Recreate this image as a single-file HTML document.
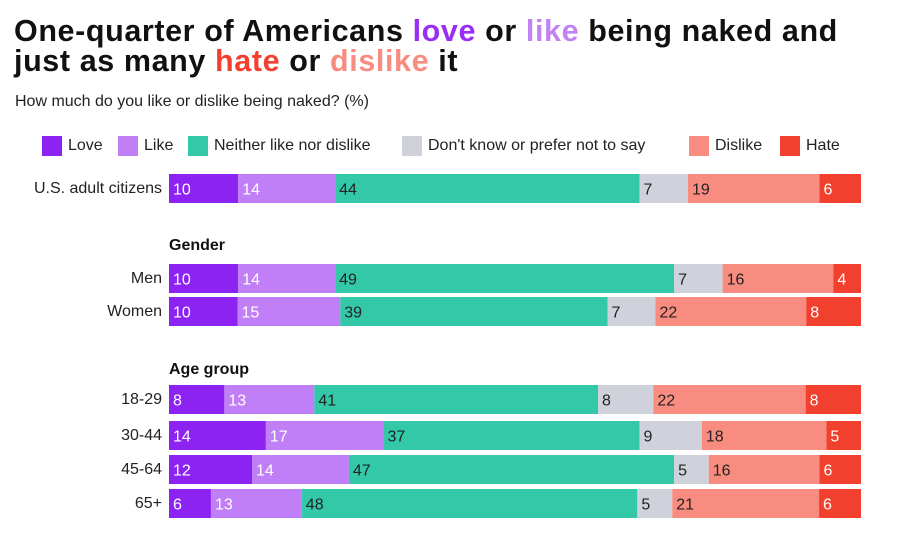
<!DOCTYPE html>
<html><head><meta charset="utf-8"><style>
body{margin:0;background:#fff;font-family:"Liberation Sans",sans-serif;}
#wrap{position:relative;width:900px;height:535px;overflow:hidden;}
h1{position:absolute;left:14px;top:16px;margin:0;font-size:30.5px;line-height:30px;font-weight:bold;letter-spacing:0.6px;color:#111;white-space:nowrap;}
.sub{position:absolute;left:15px;top:93px;font-size:16px;color:#222;}
.leg{position:absolute;top:136px;font-size:16px;color:#222;display:flex;align-items:center;white-space:nowrap;}
.leg i{display:inline-block;width:20px;height:20px;margin-right:6px;}
.lab{position:absolute;font-size:16px;color:#222;text-align:right;width:160px;left:2px;}
.grp{position:absolute;left:169px;font-size:16px;font-weight:bold;color:#111;}
</style></head><body><div id="wrap">
<h1>One-quarter of Americans <span style="color:#9a2ef5">love</span> or <span style="color:#c083f5">like</span> being naked and<br>just as many <span style="color:#f2402e">hate</span> or <span style="color:#f98c80">dislike</span> it</h1>
<div class="sub">How much do you like or dislike being naked? (%)</div>
<div id="legend"></div>
<div class="grp" style="top:237px">Gender</div>
<div class="grp" style="top:361px">Age group</div>
<svg id="svg" width="900" height="535" style="position:absolute;left:0;top:0"></svg>
</div>
<script>
const categories=["Love","Like","Neither like nor dislike","Don't know or prefer not to say","Dislike","Hate"];
const rows=["U.S. adult citizens","Men","Women","18-29","30-44","45-64","65+"];
const love=[10,10,10,8,14,12,6];
const like=[14,14,15,13,17,14,13];
const neither=[44,49,39,41,37,47,48];
const dk=[7,7,7,8,9,5,5];
const dislike=[19,16,22,22,18,16,21];
const hate=[6,4,8,8,5,6,6];
const colors=["#8d23f2","#c07ff6","#33c9a8","#cfd2da","#f98c80","#f2402e"];
const txt=["#fff","#fff","#222","#222","#222","#fff"];
const rowTop=[174,264,297,385,421,455,489];
const x0=169,W=692,H=29;
const series=[love,like,neither,dk,dislike,hate];
const svg=document.getElementById('svg');const NS="http://www.w3.org/2000/svg";
const legX=[42,118,188,402,689,780];
const lg=document.getElementById('legend');
categories.forEach((c,i)=>{const d=document.createElement('div');d.className='leg';d.style.left=legX[i]+'px';


d.innerHTML='<i style="background:'+colors[i]+'"></i>'+c;lg.appendChild(d);});
rows.forEach((r,ri)=>{
 const l=document.createElement('div');l.className='lab';l.style.top=(rowTop[ri]+6)+'px';l.textContent=r;
 
 
 document.getElementById('wrap').appendChild(l);
 let tot=0;series.forEach(s=>tot+=s[ri]);
 let x=x0;
 series.forEach((s,si)=>{const w=s[ri]/tot*W;
  const rc=document.createElementNS(NS,'rect');rc.setAttribute('x',x);rc.setAttribute('y',rowTop[ri]);rc.setAttribute('width',w);rc.setAttribute('height',H);rc.setAttribute('fill',colors[si]);
  
  
  svg.appendChild(rc);
  const t=document.createElementNS(NS,'text');t.setAttribute('x',x+4);t.setAttribute('y',rowTop[ri]+20.5);t.setAttribute('font-size','16');t.setAttribute('font-family','Liberation Sans, sans-serif');t.setAttribute('fill',txt[si]);t.textContent=s[ri];
  
  
  svg.appendChild(t);
  x+=w;});
});
</script></body></html>
